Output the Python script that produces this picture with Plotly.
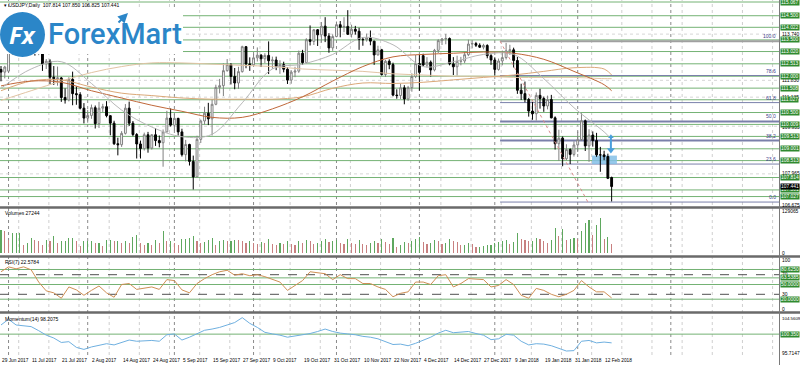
import plotly.graph_objects as go

# ---------------- data ----------------
bar_index = list(range(163))

opens = [112.28,112.17,112.21,113.31,113.24,113.20,113.23,113.90,114.03,113.91,
         113.24,113.27,112.51,112.62,111.96,111.90,111.93,111.12,111.02,111.87,
         111.28,111.24,110.68,110.27,110.38,110.70,110.04,110.68,110.74,110.37,
         110.06,109.21,109.17,109.64,110.68,110.06,109.59,109.20,109.01,109.58,
         109.03,109.58,109.34,109.25,109.70,110.27,109.98,110.26,109.70,108.76,
         109.18,108.48,107.84,109.39,110.15,110.47,110.24,110.84,111.54,111.61,
         112.23,112.48,111.99,111.72,112.19,113.22,112.51,112.47,112.76,112.87,
         112.72,112.86,112.64,112.67,112.40,112.48,112.29,111.84,112.17,112.21,
         112.95,112.56,113.51,113.44,113.92,113.71,114.07,113.66,113.17,113.64,
         114.13,114.02,114.06,113.73,113.94,113.86,113.52,113.51,113.59,113.45,
         112.88,113.09,112.07,112.62,112.48,111.22,111.20,111.52,111.06,111.53,
         111.99,112.52,112.85,112.46,112.58,112.26,113.07,113.47,113.54,113.56,
         112.51,112.39,112.62,112.63,112.89,113.33,113.35,113.28,113.20,113.27,
         112.85,112.67,112.28,112.63,112.77,113.05,113.09,112.65,111.42,111.28,
         111.04,110.56,110.45,111.21,111.08,110.77,111.04,110.28,109.21,109.44,
         108.59,108.97,108.77,109.16,109.38,110.16,109.12,109.57,109.34,108.75,
         108.75,108.68,107.814]
highs = [112.42,112.43,113.46,113.48,113.48,113.63,114.17,114.32,114.49,114.09,
         113.48,113.57,112.71,112.70,112.42,112.40,111.97,111.50,111.96,112.19,
         111.58,111.34,110.89,110.61,110.83,110.79,110.94,110.86,110.97,110.38,
         110.16,109.46,109.73,110.85,110.95,110.15,109.65,109.34,109.67,109.70,
         109.60,109.85,109.55,109.80,110.57,110.67,110.44,110.28,109.83,109.37,
         109.21,108.72,109.54,110.21,110.74,110.90,111.06,111.65,111.89,112.53,
         112.71,112.54,112.34,112.39,113.26,113.25,112.78,112.92,113.19,112.91,
         112.95,113.44,112.81,112.81,112.66,112.60,112.37,112.25,112.39,113.06,
         113.09,113.57,114.10,113.95,113.95,114.24,114.44,113.78,113.73,114.26,
         114.28,114.44,114.73,114.13,114.08,114.00,113.62,113.76,113.89,113.46,
         113.26,113.13,112.68,112.70,112.56,111.46,111.69,111.63,111.60,112.12,
         112.88,112.89,112.93,112.79,112.65,113.13,113.53,113.58,113.75,113.60,
         112.79,112.85,112.80,113.00,113.51,113.49,113.42,113.36,113.34,113.32,
         112.91,112.78,112.73,113.06,113.38,113.30,113.18,112.80,111.69,111.78,
         111.10,110.94,111.33,111.48,111.16,111.20,111.23,110.34,109.79,109.51,
         109.19,109.02,109.31,109.71,110.48,110.21,109.81,109.72,109.66,109.08,
         108.92,108.80,107.850]
lows = [111.79,111.91,112.13,112.90,112.86,112.91,113.14,113.75,113.73,112.85,
        112.87,112.22,112.30,111.68,111.64,111.61,110.94,110.87,110.96,110.80,
        110.82,110.63,110.05,110.08,110.24,109.84,109.86,110.52,110.30,109.56,
        109.16,108.73,109.08,109.59,109.94,109.52,108.60,108.60,108.93,108.84,
        108.97,109.12,109.06,108.26,109.68,109.92,109.76,109.55,108.68,108.48,
        108.31,107.32,107.84,109.24,110.00,109.98,109.55,110.80,111.29,111.18,
        112.19,111.66,111.46,111.48,112.15,112.33,112.22,112.46,112.61,112.38,
        112.54,112.09,112.31,112.25,112.10,112.16,111.68,111.69,111.96,112.14,
        112.48,112.52,113.27,113.29,113.25,113.38,113.41,112.97,113.05,113.61,
        113.61,113.82,113.91,113.60,113.72,113.09,113.26,113.43,113.28,112.47,
        112.86,112.03,111.97,112.29,111.17,111.07,111.06,110.84,110.98,111.36,
        111.92,111.40,112.41,112.36,111.99,112.20,112.96,113.29,113.32,112.45,
        112.05,112.03,112.45,112.54,112.83,113.15,113.21,113.17,113.11,112.74,
        112.47,112.03,112.23,112.45,112.69,112.88,112.36,111.27,111.02,110.92,
        110.33,110.20,110.17,110.66,110.53,110.63,110.26,108.97,108.50,108.28,
        108.53,108.37,108.68,108.87,109.33,108.91,108.46,109.09,108.67,108.05,
        108.53,107.75,106.825]
closes = [112.17,112.38,113.31,113.24,113.20,113.23,113.90,114.03,113.91,113.24,
          113.27,112.51,112.62,111.96,111.90,111.93,111.12,111.02,111.87,111.28,
          111.24,110.68,110.27,110.38,110.70,110.04,110.68,110.74,110.37,110.06,
          109.21,109.17,109.64,110.68,110.06,109.59,109.20,109.01,109.58,109.03,
          109.58,109.34,109.25,109.70,110.27,109.98,110.26,109.70,108.76,109.18,
          108.48,107.84,109.39,110.15,110.47,110.24,110.84,111.54,111.61,112.23,
          112.48,111.99,111.72,112.19,113.22,112.51,112.47,112.76,112.87,112.72,
          112.86,112.64,112.67,112.40,112.48,112.29,111.84,112.17,112.21,112.95,
          112.56,113.51,113.44,113.92,113.71,114.07,113.66,113.17,113.64,114.13,
          114.02,114.06,113.73,113.94,113.86,113.52,113.51,113.59,113.45,112.88,
          113.09,112.07,112.62,112.48,111.22,111.20,111.52,111.06,111.53,111.99,
          112.52,112.16,112.46,112.58,112.26,113.07,113.47,113.54,113.56,112.51,
          112.39,112.62,112.63,112.89,113.33,113.35,113.28,113.20,113.27,112.85,
          112.67,112.28,112.63,112.77,113.05,113.09,112.65,111.42,111.28,111.04,
          110.56,110.45,111.21,111.08,110.77,111.04,110.28,109.21,109.44,108.59,
          108.97,108.77,109.16,109.38,110.16,109.12,109.57,109.34,108.75,108.75,
          108.68,107.78,107.441]

volumes = [71500,66700,40900,61500,61500,61500,25500,30700,46100,40900,
           36000,25500,40900,36000,51300,30700,36000,36000,46100,46100,
           36000,20600,36000,36000,36000,30700,30700,20600,40900,40900,
           36000,36000,30700,36000,30700,49200,56200,30700,25500,30700,
           25500,40900,30700,66700,36000,36000,30700,25500,43000,43000,
           46100,51300,36000,30700,32900,40900,46100,25500,36000,39000,
           36000,36000,40900,39000,36000,30700,36000,30700,27700,33800,
           30700,43000,27700,24600,30700,27700,36900,27700,24600,36900,
           30700,40000,36900,27700,30700,36900,43000,33800,36900,40000,
           30700,27700,43000,30700,27700,40000,27700,24600,30700,36900,
           30700,43000,33800,27700,46100,18400,24600,33800,30700,36900,
           43000,49200,33800,27700,30700,40000,36900,27700,30700,43000,
           36900,33800,24600,24600,30700,27700,18400,18400,21500,24600,
           24600,30700,33800,36900,40000,27700,33800,61500,43000,40000,
           36900,36900,46100,43000,36900,30700,40000,76800,52200,73700,
           40000,43000,46100,43000,67600,92200,101400,55300,86000,107600,
           43000,49200,27244]

step2_bars = list(range(0, 163, 2))
rsi_values = [76, 86, 82, 86, 80, 55, 37, 33, 22, 45,
              39, 28, 38, 47, 33, 24, 50, 52, 40, 43,
              45, 40, 60, 58, 39, 33, 52, 62, 70, 76,
              79, 69, 72, 68, 70, 66, 60, 55, 38, 48,
              58, 76, 74, 72, 60, 70, 62, 62, 52, 52,
              45, 40, 25, 32, 35, 55, 55, 50, 68, 70,
              45, 52, 62, 61, 60, 45, 48, 60, 50, 28,
              22, 42, 38, 30, 25, 30, 38, 58, 45, 35,
              35, 22.58]
momentum_values = [102.6, 104.0, 102.6, 102.4, 102.2, 101.2, 100.1, 99.4, 98.3, 98.5,
                   97.1, 96.6, 97.2, 97.6, 98.0, 97.7, 98.3, 98.9, 98.6, 98.7,
                   98.8, 98.6, 100.2, 100.4, 98.9, 99.6, 100.5, 101.3, 101.6, 102.0,
                   102.6, 103.2, 104.4, 103.0, 102.0, 100.8, 100.4, 100.1, 99.6, 99.9,
                   100.2, 100.5, 101.0, 101.6, 101.0, 100.6, 100.4, 100.2, 99.8, 99.6,
                   99.2, 98.5, 97.8, 97.9, 97.5, 98.1, 98.9, 99.6, 100.6, 101.3,
                   100.7, 100.8, 101.0, 100.5, 100.1, 99.0, 99.2, 100.3, 100.1, 98.6,
                   97.7, 98.0, 97.9, 97.5, 96.8, 96.2, 96.3, 98.6, 98.8, 98.2,
                   98.4, 98.2075]

ma_bars = [0, 8, 16, 24, 32, 40, 48, 56, 64, 72, 80, 88, 96, 104, 112, 120, 128, 136, 144, 152, 160, 162]
ma_fast = [111.5, 112.3, 112.6, 111.7, 110.6, 109.9, 109.5, 109.6, 110.9, 112.3, 112.5,
           112.9, 113.6, 113.3, 112.4, 112.6, 112.9, 112.9, 111.9, 110.7, 109.7, 109.4]
ma_mid = [111.6, 111.8, 111.75, 111.4, 111.1, 110.8, 110.55, 110.3, 110.3, 110.65, 111.15,
          111.8, 112.4, 112.8, 112.9, 112.95, 113.0, 112.95, 112.7, 112.2, 111.65, 111.4]
ma_slow = [111.4, 111.8, 111.85, 111.55, 111.3, 111.2, 111.1, 111.05, 111.05, 111.05, 111.15,
           111.5, 111.72, 111.7, 111.75, 111.85, 111.95, 112.05, 112.2, 112.35, 112.3, 112.05]
ma_long = [111.0, 111.4, 111.8, 112.15, 112.4, 112.55, 112.55, 112.5, 112.45, 112.4, 112.3,
           112.25, 112.2, 112.1, 112.05, 112.0, 112.0, 111.95, 111.95, 111.95, 111.9, 111.9]

green_levels = [115.067, 114.500, 114.022, 113.500, 113.020, 112.513, 112.000, 111.508, 111.027,
                110.500, 110.009, 109.513, 109.001, 108.513, 107.814, 107.301, 107.027]
axis_tick_levels = [113.740, 111.830, 111.135, 109.935, 107.965, 106.675]
last_price = 107.441

fib_levels = [113.45, 112.03, 110.91, 110.13, 109.34, 108.37, 106.80]
fib_texts = ["100.0", "78.6", "61.8", "50.0", "38.2", "23.6", "0.0"]
fib_start_bar = 132.4
trend_bars = [132.4, 155.7]
trend_prices = [113.45, 106.80]
zone_bars = [156.8, 163.4]
zone_prices = [108.37, 108.72]
arrow_bar = 161.8
arrow_prices = [109.50, 108.95]

rsi_green_levels = [80.625, 63.5385, 50.0, 20.0]
rsi_green_texts = ["80.6250", "63.5385", "50.0000", "20.0000"]
rsi_dash_levels = [70, 30]
mom_green_level = 100.35
vol_max = 129065
mom_max, mom_min = 104.5609, 95.7147

date_label_bars = list(range(0, 161, 8))
date_labels = ["29 Jun 2017", "11 Jul 2017", "21 Jul 2017", "2 Aug 2017", "14 Aug 2017",
               "24 Aug 2017", "5 Sep 2017", "15 Sep 2017", "27 Sep 2017", "9 Oct 2017",
               "19 Oct 2017", "31 Oct 2017", "10 Nov 2017", "22 Nov 2017", "4 Dec 2017",
               "14 Dec 2017", "27 Dec 2017", "9 Jan 2018", "19 Jan 2018", "31 Jan 2018",
               "12 Feb 2018"]
month_sep_bars = [2, 23, 46, 67, 89, 111, 131, 153, 177.7]
grid_bars = [4.7 + 8 * k for k in range(26)]

header_text = "▾ USDJPY,Daily  107.814 107.850 106.825 107.441"

# ---------------- geometry ----------------
W, H = 800, 365
MR, MB = 21, 10
PW, PH = W - MR, H - MB


def px(x):
    return x / PW


def py(y):
    return 1 - y / PH


FONT = "Liberation Sans"
GREEN_LINE = "#74b274"
GREEN_BOX = "#2f8a2f"
LFS = 4.9

fig = go.Figure()

fig.add_trace(go.Candlestick(
    x=bar_index, open=opens, high=highs, low=lows, close=closes,
    xaxis="x", yaxis="y", whiskerwidth=0, showlegend=False, hoverinfo="skip",
    increasing=dict(line=dict(color="#808080", width=1), fillcolor="#ffffff"),
    decreasing=dict(line=dict(color="#000000", width=1), fillcolor="#000000")))

for vals, col in [(ma_long, "#e2c4a4"), (ma_slow, "#dba878"), (ma_mid, "#c0683a"), (ma_fast, "#b8b8b8")]:
    fig.add_trace(go.Scatter(x=ma_bars, y=vals, mode="lines", yaxis="y", showlegend=False,
                             hoverinfo="skip", line=dict(color=col, width=1, shape="spline")))

fig.add_trace(go.Scatter(x=trend_bars, y=trend_prices, mode="lines", yaxis="y", showlegend=False,
                         hoverinfo="skip", line=dict(color="#d98c8c", width=1, dash="dot")))

vol_colors = ["#5fa85f" if i == 0 or volumes[i] >= volumes[i - 1] else "#c88080"
              for i in range(len(volumes))]
fig.add_trace(go.Bar(x=bar_index, y=volumes, yaxis="y2", marker=dict(color=vol_colors, line=dict(width=0)),
                     width=0.3, showlegend=False, hoverinfo="skip"))

fig.add_trace(go.Scatter(x=step2_bars, y=rsi_values, mode="lines", yaxis="y3", showlegend=False,
                         hoverinfo="skip", line=dict(color="#cf8f55", width=1)))
fig.add_trace(go.Scatter(x=step2_bars, y=momentum_values, mode="lines", yaxis="y4", showlegend=False,
                         hoverinfo="skip", line=dict(color="#6fb0e0", width=1)))

# arrow object
fig.add_trace(go.Scatter(x=[arrow_bar, arrow_bar], y=arrow_prices, mode="lines", yaxis="y",
                         showlegend=False, hoverinfo="skip", line=dict(color="#4a9fdc", width=2)))
fig.add_trace(go.Scatter(x=[arrow_bar], y=[arrow_prices[1]], mode="markers", yaxis="y", showlegend=False,
                         hoverinfo="skip", marker=dict(symbol="triangle-down", size=7, color="#4a9fdc")))
fig.add_trace(go.Scatter(x=[arrow_bar], y=[arrow_prices[0]], mode="markers", yaxis="y", showlegend=False,
                         hoverinfo="skip", marker=dict(symbol="triangle-up", size=5, color="#4a9fdc")))

shapes = []
# vertical grid
for b in grid_bars:
    shapes.append(dict(type="line", xref="x", yref="paper", x0=b, x1=b, y0=0, y1=1,
                       line=dict(color="#cfcfcf", width=1, dash="dot"), layer="below"))
for b in month_sep_bars:
    shapes.append(dict(type="line", xref="x", yref="paper", x0=b, x1=b, y0=0, y1=1,
                       line=dict(color="#8a8a8a", width=1, dash="dot"), layer="below"))
# horizontal price grid
for lv in axis_tick_levels[:-1]:
    shapes.append(dict(type="line", xref="paper", yref="y", x0=0, x1=1, y0=lv, y1=lv,
                       line=dict(color="#d6d6d6", width=1, dash="dot"), layer="below"))
# green levels
for lv in green_levels:
    shapes.append(dict(type="line", xref="paper", yref="y", x0=0, x1=1, y0=lv, y1=lv,
                       line=dict(color=GREEN_LINE, width=1), layer="below"))
# fib levels
for lv, t in zip(fib_levels, fib_texts):
    col = "#a0a0a0" if t == "100.0" else "#7a80aa"
    wd = 2 if t in ("100.0", "50.0", "38.2") else 1
    shapes.append(dict(type="line", xref="x", yref="y", x0=fib_start_bar, x1=206.4, y0=lv, y1=lv,
                       line=dict(color=col, width=wd), layer="below"))
# zone rectangle
shapes.append(dict(type="rect", xref="x", yref="y", x0=zone_bars[0], x1=zone_bars[1],
                   y0=zone_prices[0], y1=zone_prices[1], fillcolor="#84bfe8", opacity=0.85,
                   line=dict(width=0), layer="below"))
# RSI levels
for lv in rsi_green_levels:
    shapes.append(dict(type="line", xref="paper", yref="y3", x0=0, x1=1, y0=lv, y1=lv,
                       line=dict(color=GREEN_LINE, width=1), layer="below"))
for lv in rsi_dash_levels:
    shapes.append(dict(type="line", xref="paper", yref="y3", x0=0, x1=1, y0=lv, y1=lv,
                       line=dict(color="#505050", width=1, dash="dash"), layer="below"))
shapes.append(dict(type="line", xref="paper", yref="y4", x0=0, x1=1, y0=mom_green_level,
                   y1=mom_green_level, line=dict(color=GREEN_LINE, width=1), layer="below"))
# separators and axis line
for sy in [207.5, 256.5, 312.5]:
    shapes.append(dict(type="line", xref="paper", yref="paper", x0=0, x1=W / PW, y0=py(sy), y1=py(sy),
                       line=dict(color="#6a6a6a", width=2.5), layer="above"))
shapes.append(dict(type="line", xref="paper", yref="paper", x0=px(779.5), x1=px(779.5), y0=py(H), y1=1,
                   line=dict(color="#7a7a7a", width=1), layer="above"))
# logo background and circle
shapes.append(dict(type="rect", xref="paper", yref="paper", x0=px(-1), x1=px(183), y0=py(54), y1=py(9),
                   fillcolor="#ffffff", line=dict(width=0), layer="above"))
shapes.append(dict(type="circle", xref="paper", yref="paper", x0=px(0), x1=px(45), y0=py(57), y1=py(12),
                   fillcolor="#2b86c8", line=dict(width=0), layer="above"))

ann = []
LAB_X = px(780.2)


def rlabel(yref, val, text, kind="plain", yshift=0):
    fs = LFS if len(text) <= 7 else 4.4
    base = dict(xref="paper", yref=yref, x=LAB_X, y=val, text=text, showarrow=False,
                xanchor="left", yanchor="middle", yshift=yshift)
    if kind == "green":
        base.update(bgcolor=GREEN_BOX, borderpad=0, font=dict(family=FONT, size=fs, color="#ffffff"))
    elif kind == "black":
        base.update(bgcolor="#000000", borderpad=0, font=dict(family=FONT, size=fs, color="#ffffff"))
    else:
        base.update(font=dict(family=FONT, size=fs, color="#000000"))
    ann.append(base)


for lv in axis_tick_levels:
    rlabel("y", lv, f"{lv:.3f}", yshift=(-1 if lv == 109.935 else 0))
for lv in green_levels:
    rlabel("y", lv, f"{lv:.3f}", "green")
rlabel("y", last_price, f"{last_price:.3f}", "black")

for lv, t in zip(fib_levels, fib_texts):
    ann.append(dict(xref="paper", yref="y", x=px(778), y=lv, text=t, showarrow=False,
                    xanchor="right", yanchor="bottom", font=dict(family=FONT, size=5, color="#40408a")))

rlabel("y2", vol_max, str(vol_max))
rlabel("y2", 0, "0")
rlabel("y3", 100, "100")
rlabel("y3", 70, "70")
rlabel("y3", 30, "30")
rlabel("y3", 0, "0")
for lv, t in zip(rsi_green_levels, rsi_green_texts):
    rlabel("y3", lv, t, "green")
rlabel("y4", mom_max, f"{mom_max:.4f}", yshift=-1)
rlabel("y4", mom_min, f"{mom_min:.4f}")
rlabel("y4", mom_green_level, f"{mom_green_level:.3f}", "green")

for t, yy in [("Volumes 27244", 213), ("RSI(7) 22.5784", 262), ("Momentum(14) 98.2075", 318.5)]:
    ann.append(dict(xref="paper", yref="paper", x=px(3), y=py(yy), text=t, showarrow=False,
                    xanchor="left", yanchor="middle", font=dict(family=FONT, size=5, color="#000000")))

ann.append(dict(xref="paper", yref="paper", x=px(2), y=py(5), text=header_text, showarrow=False,
                xanchor="left", yanchor="middle", font=dict(family=FONT, size=5, color="#000000")))

for b, t in zip(date_label_bars, date_labels):
    ann.append(dict(xref="x", yref="paper", x=b, y=py(360.5), text=t, showarrow=False,
                    xanchor="left", yanchor="middle", xshift=-1,
                    font=dict(family=FONT, size=4.8, color="#000000")))

# logo text
ann.append(dict(xref="paper", yref="paper", x=px(22), y=py(35), text="<b><i>Fx</i></b>", showarrow=False,
                xanchor="center", yanchor="middle", font=dict(family="Open Sans", size=24, color="#ffffff")))
ann.append(dict(xref="paper", yref="paper", x=px(46), y=py(34), text="ForexMart", showarrow=False,
                xanchor="left", yanchor="middle",
                font=dict(family="Roboto", size=29, color="#2b86c8", weight=500)))
ann.append(dict(xref="paper", yref="paper", x=px(128), y=py(13), ax=-11, ay=11, text="", showarrow=True,
                arrowhead=2, arrowsize=1, arrowwidth=2, arrowcolor="#2b86c8"))

fig.update_layout(
    width=W, height=H, margin=dict(l=0, r=MR, t=0, b=MB),
    paper_bgcolor="#ffffff", plot_bgcolor="#ffffff", showlegend=False,
    xaxis=dict(range=[-0.265, 206.4], visible=False, rangeslider=dict(visible=False), anchor="y4",
               fixedrange=True),
    yaxis=dict(domain=[py(206), 1], range=[106.637, 115.150], visible=False, fixedrange=True),
    yaxis2=dict(domain=[py(255), py(209)], range=[-6146, 135211], visible=False, fixedrange=True),
    yaxis3=dict(domain=[py(311), py(258)], range=[-4.08, 104.08], visible=False, fixedrange=True),
    yaxis4=dict(domain=[0, py(314)], range=[95.223, 105.298], visible=False, fixedrange=True),
    shapes=shapes, annotations=ann, bargap=0,
)

fig.write_html("out.html", config={"staticPlot": True},
               post_script="document.body.style.margin='0px';document.body.style.overflow='hidden';")
